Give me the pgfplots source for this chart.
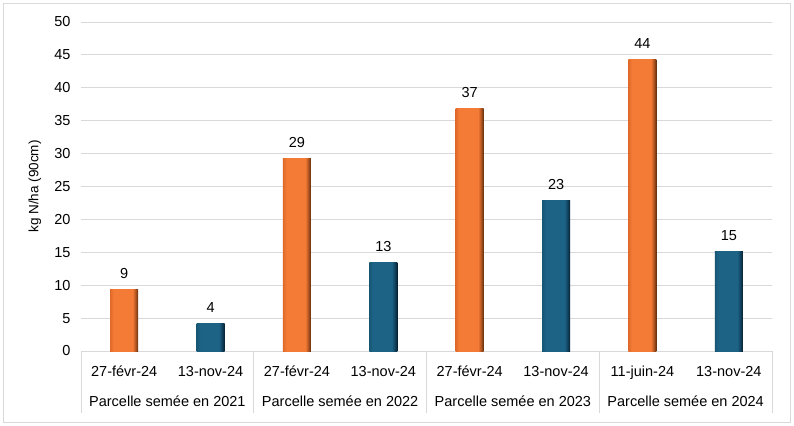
\documentclass[border=0pt]{standalone}
\usepackage{fontspec}
\setmainfont{Liberation Sans}
\usepackage{pgfplots}
\pgfplotsset{compat=1.18}
\definecolor{orgM}{HTML}{F47B36}
\definecolor{orgL}{HTML}{E06A2A}
\definecolor{orgD}{HTML}{B5561F}
\definecolor{orgR}{HTML}{5E2E0E}
\definecolor{bluM}{HTML}{1D6385}
\definecolor{bluL}{HTML}{175674}
\definecolor{bluD}{HTML}{114563}
\definecolor{bluR}{HTML}{071F30}
\definecolor{gridc}{HTML}{D9D9D9}
\pgfdeclarehorizontalshading{orgshade}{100bp}{color(0bp)=(orgL); color(25bp)=(orgL); color(31bp)=(orgM); color(65bp)=(orgM); color(70bp)=(orgD); color(75bp)=(orgR); color(100bp)=(orgR)}
\pgfdeclarehorizontalshading{blushade}{100bp}{color(0bp)=(bluL); color(25bp)=(bluL); color(31bp)=(bluM); color(65bp)=(bluM); color(70bp)=(bluD); color(75bp)=(bluR); color(100bp)=(bluR)}
\pgfplotsset{
  orgbar/.style={draw=none, shading=orgshade},
  blubar/.style={draw=none, shading=blushade},
}
\begin{document}
\begin{tikzpicture}[x=1bp,y=1bp]
\useasboundingbox (0,0) rectangle (794,425);
\draw[gridc, line width=0.8bp] (3,3) rectangle (790,422);
\begin{axis}[
  at={(81bp,74bp)}, anchor=south west,
  scale only axis, width=691bp, height=329bp,
  xmin=-0.5, xmax=7.5, ymin=0, ymax=50,
  ytick={0,5,...,50},
  ymajorgrids, grid style={gridc, line width=0.8bp},
  axis line style={draw=none},
  major tick length=0pt,
  clip=false,
  xtick={0,...,7},
  xticklabels={27-févr-24,13-nov-24,27-févr-24,13-nov-24,27-févr-24,13-nov-24,11-juin-24,13-nov-24},
  ticklabel style={font=\fontsize{14.5bp}{17bp}\selectfont},
  /pgf/number format/assume math mode=true,
  yticklabel style={xshift=-7bp},
  xticklabel style={anchor=base, yshift=-25bp},
  ylabel={kg N/ha (90cm)},
  ylabel style={font=\fontsize{13.5bp}{16bp}\selectfont, at={(axis description cs:-0.0666,0.5)}, anchor=center},
  ybar, bar width=28bp, bar shift=0pt,
  nodes near coords={\pgfmathprintnumber[fixed,precision=0,assume math mode=true]{\pgfplotspointmeta}},
  point meta=y,
  every node near coord/.append style={anchor=base, yshift=11bp, font=\fontsize{14.5bp}{17bp}\selectfont, text=black},
]
\addplot[orgbar] coordinates {(0,9.4)};
\addplot[blubar] coordinates {(1,4.15)};
\addplot[orgbar] coordinates {(2,29.2)};
\addplot[blubar] coordinates {(3,13.4)};
\addplot[orgbar] coordinates {(4,36.8)};
\addplot[blubar] coordinates {(5,22.8)};
\addplot[orgbar] coordinates {(6,44.3)};
\addplot[blubar] coordinates {(7,15.1)};
\pgfplotsinvokeforeach{-0.5,1.5,3.5,5.5,7.5}{\draw[gridc, line width=0.8bp] (axis cs:#1,0) -- ++(0pt,-62bp);}
\node[anchor=base, yshift=-55bp, font=\fontsize{14.5bp}{17bp}\selectfont] at (axis cs:0.5,0) {Parcelle semée en 2021};
\node[anchor=base, yshift=-55bp, font=\fontsize{14.5bp}{17bp}\selectfont] at (axis cs:2.5,0) {Parcelle semée en 2022};
\node[anchor=base, yshift=-55bp, font=\fontsize{14.5bp}{17bp}\selectfont] at (axis cs:4.5,0) {Parcelle semée en 2023};
\node[anchor=base, yshift=-55bp, font=\fontsize{14.5bp}{17bp}\selectfont] at (axis cs:6.5,0) {Parcelle semée en 2024};
\end{axis}
\end{tikzpicture}
\end{document}
